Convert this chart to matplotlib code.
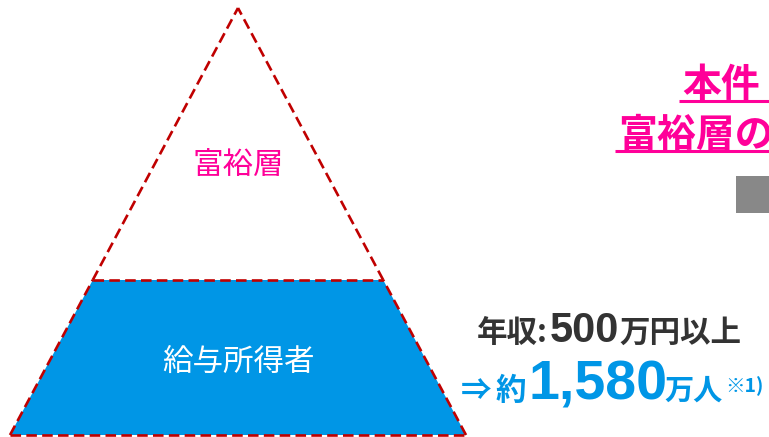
import matplotlib
matplotlib.use("Agg")
import matplotlib.pyplot as plt
from matplotlib.patches import Polygon, Rectangle

plt.rcParams['font.family'] = ['Noto Sans CJK JP', 'DejaVu Sans']

# pyramid layers (bottom -> top), boundaries as fraction of height
layer_names = ["給与所得者", "富裕層"]
layer_bounds = [0.0, 0.363, 1.0]
layer_fill = ["#0096E6", "none"]
layer_text_col = ["white", "#FF0099"]
layer_text_pos = [0.17, 0.63]

title_lines = ["本件", "富裕層の"]
income_parts = [("年収:", 22, "#333333", "Noto Sans CJK JP"),
                ("500", 30, "#333333", "Liberation Sans"),
                ("万円以上", 22, "#333333", "Noto Sans CJK JP")]
count_parts = [("⇒", 22, "#0096E6", "Noto Sans CJK JP"),
               ("約", 22, "#0096E6", "Noto Sans CJK JP"),
               ("1,580", 40, "#0096E6", "Liberation Sans"),
               ("万人", 21, "#0096E6", "Noto Sans CJK JP"),
               ("※1)", 14, "#0096E6", "Noto Sans CJK JP")]

W, H = 769, 437
fig = plt.figure(figsize=(W / 100, H / 100), dpi=100)
ax = fig.add_axes([0, 0, 1, 1])
ax.set_xlim(0, W)
ax.set_ylim(H, 0)
ax.axis("off")

apex = (238, 8)
base_y = 435
half_base = 228
red = "#C00000"


def edge_x(frac):
    y = base_y - frac * (base_y - apex[1])
    half = half_base * (1 - frac)
    return y, apex[0] - half, apex[0] + half


for i, name in enumerate(layer_names):
    y0, l0, r0 = edge_x(layer_bounds[i])
    y1, l1, r1 = edge_x(layer_bounds[i + 1])
    if layer_fill[i] != "none":
        ax.add_patch(Polygon([(l0, y0), (r0, y0), (r1, y1), (l1, y1)],
                             closed=True, facecolor=layer_fill[i], edgecolor="none"))
    ax.plot([l0, r0], [y0, y0], color=red, lw=1.9, dashes=(4, 2))
    ax.plot([l0, l1], [y0, y1], color=red, lw=1.9, dashes=(4, 2))
    ax.plot([r0, r1], [y0, y1], color=red, lw=1.9, dashes=(4, 2))
    ty, _, _ = edge_x(layer_text_pos[i])
    ax.text(apex[0], ty, name, color=layer_text_col[i], fontsize=22,
            ha="center", va="center")

# title lines (clipped at right edge in the original), underlined
title_x = [682, 618]
title_base = [97, 147]
for txt, x, yb in zip(title_lines, title_x, title_base):
    ax.text(x, yb, txt, color="#FF0099", fontsize=28, fontweight="bold",
            ha="left", va="baseline")
    ax.plot([x - 3, W], [yb + 4, yb + 4], color="#FF0099", lw=2.2,
            solid_capstyle="butt")

ax.add_patch(Rectangle((736, 176), 40, 37, facecolor="#888888", edgecolor="none"))

fig.canvas.draw()
renderer = fig.canvas.get_renderer()
inv = ax.transData.inverted()


def run_text(parts, x, yb, gaps):
    for (txt, size, col, fam), g in zip(parts, gaps):
        t = ax.text(x + g, yb, txt, fontsize=size, color=col, fontweight="bold",
                    family=[fam, "DejaVu Sans"], ha="left", va="baseline")
        if txt.startswith("※"):
            t.set_y(yb - 8)
        bb = t.get_window_extent(renderer)
        x = inv.transform((bb.x1, bb.y0))[0]


run_text(income_parts, 477, 342, [0, 2, 0])
run_text(count_parts, 461, 400, [0, 4, 2, -3, 3])

fig.savefig("out.png", dpi=100)
